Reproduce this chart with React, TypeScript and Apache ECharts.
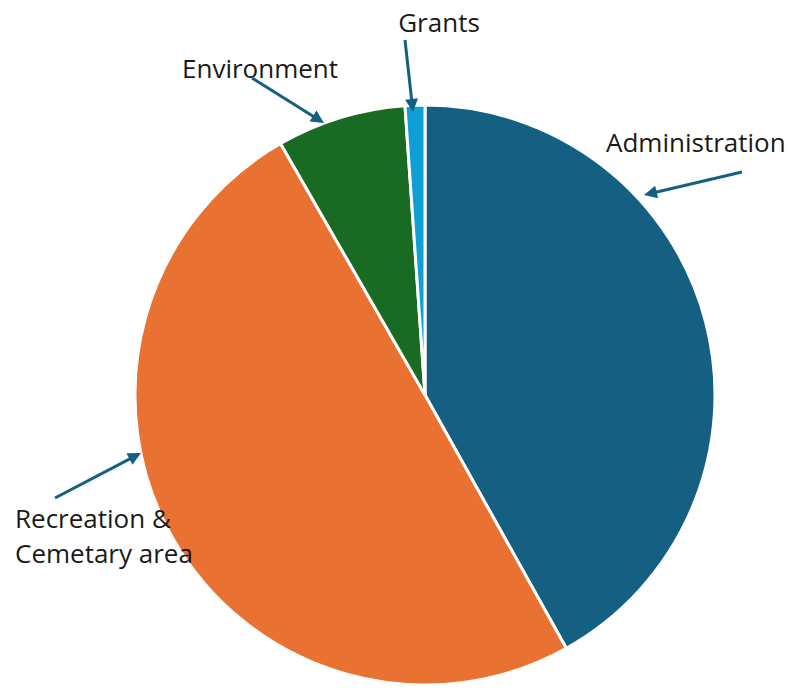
import React, { useEffect, useRef } from "react";
import * as echarts from "echarts";

const categories = ["Administration", "Recreation & Cemetary area", "Environment", "Grants"];
const values = [41.9, 49.8, 7.2, 1.1];
const colors = ["#156082", "#E97132", "#196B24", "#0F9ED5"];

const FONT = "Open Sans";
const ARROW = "#156082";

function arrow(x1: number, y1: number, x2: number, y2: number) {
  const dx = x2 - x1;
  const dy = y2 - y1;
  const len = Math.sqrt(dx * dx + dy * dy);
  const ux = dx / len;
  const uy = dy / len;
  const hl = 13;
  const hw = 6.5;
  const bx = x2 - ux * hl;
  const by = y2 - uy * hl;
  return [
    {
      type: "line",
      z: 100,
      shape: { x1, y1, x2: bx + ux * 2, y2: by + uy * 2 },
      style: { stroke: ARROW, lineWidth: 3 },
    },
    {
      type: "polygon",
      z: 100,
      shape: {
        points: [
          [x2, y2],
          [bx - uy * hw, by + ux * hw],
          [bx + uy * hw, by - ux * hw],
        ],
      },
      style: { fill: ARROW },
    },
  ];
}

function label(text: string, x: number, y: number, align = "left") {
  return {
    type: "text",
    z: 100,
    x,
    y,
    style: {
      text,
      font: `26px "${FONT}"`,
      fill: "#1a1a1a",
      align,
      verticalAlign: "middle",
      lineHeight: 35,
    },
  };
}

export default function App() {
  const ref = useRef<HTMLDivElement>(null);
  useEffect(() => {
    const chart = echarts.init(ref.current!, null, { renderer: "svg" });
    chart.setOption({
      animation: false,
      backgroundColor: "#ffffff",
      series: [
        {
          type: "pie",
          z: 1,
          center: [425, 395],
          radius: 290,
          startAngle: 90,
          clockwise: true,
          label: { show: false },
          labelLine: { show: false },
          itemStyle: { borderColor: "#ffffff", borderWidth: 3 },
          data: categories.map((name, i) => ({
            name,
            value: values[i],
            itemStyle: { color: colors[i] },
          })),
        },
      ],
      graphic: [
        label("Grants", 439, 22, "center"),
        ...arrow(405, 40, 413, 112),
        label("Environment", 182, 68),
        ...arrow(252, 78, 324, 123),
        label("Administration", 606, 142),
        ...arrow(742, 172, 644, 195),
        label("Recreation &\nCemetary area", 15, 535),
        ...arrow(55, 498, 141, 453),
      ],
    });
    return () => chart.dispose();
  }, []);
  return (
    <div
      ref={ref}
      style={{ position: "absolute", left: 0, top: 0, width: 790, height: 693 }}
    />
  );
}
